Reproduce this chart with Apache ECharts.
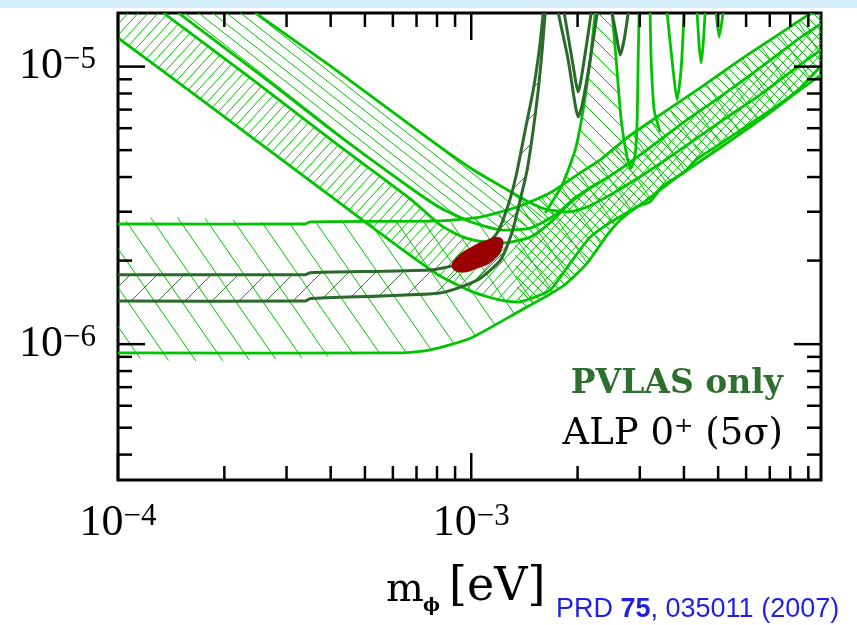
<!DOCTYPE html>
<html>
<head>
<meta charset="utf-8">
<script src="https://cdn.jsdelivr.net/npm/echarts@6/dist/echarts.min.js"></script>
<style>
  html, body { margin: 0; padding: 0; background: #fff; }
  #chart { width: 857px; height: 625px; }
</style>
</head>
<body>
<div id="chart"></div>
<script>
// ---- axis ticks ----
const xMajorTicks = [1e-4, 1e-3];
const xMinorTicks = [2e-4, 3e-4, 4e-4, 5e-4, 6e-4, 7e-4, 8e-4, 9e-4,
                     2e-3, 3e-3, 4e-3, 5e-3, 6e-3, 7e-3, 8e-3, 9e-3];
const yMajorTicks = [1e-6, 1e-5];
const yMinorTicks = [4e-7, 5e-7, 6e-7, 7e-7, 8e-7, 9e-7,
                     2e-6, 3e-6, 4e-6, 5e-6, 6e-6, 7e-6, 8e-6, 9e-6];

// ---- curves, [m_phi (eV), g] ----
// rotation band (flat at low mass, rising at high mass)
const h1Top = [[1.0e-4,2.71e-6],[3.39e-4,2.71e-6],[3.50e-4,2.76e-6],[8.17e-4,2.78e-6],[1.06e-3,2.87e-6],
  [1.35e-3,3.12e-6],[1.673e-3,3.51e-6],[2.034e-3,4.14e-6],[2.317e-3,4.61e-6],[2.781e-3,5.58e-6],
  [3.425e-3,6.70e-6],[4.446e-3,8.38e-6],[5.768e-3,1.057e-5],[7.24e-3,1.28e-5],[8.81e-3,1.51e-5],[9.22e-3,1.56e-5]];
const h1Bottom = [[1.0e-4,9.30e-7],[6.30e-4,9.30e-7],[7.66e-4,9.54e-7],[9.94e-4,1.05e-6],[1.376e-3,1.32e-6],
  [1.619e-3,1.48e-6],[1.845e-3,1.64e-6],[2.129e-3,1.96e-6],[2.425e-3,2.47e-6],[2.64e-3,2.80e-6],
  [2.949e-3,3.12e-6],[3.209e-3,3.26e-6],[3.493e-3,3.72e-6],[3.979e-3,4.14e-6],[4.36e-3,4.65e-6],
  [4.966e-3,5.18e-6],[6.155e-3,6.22e-6],[7.482e-3,7.34e-6],[8.525e-3,8.38e-6],[9.775e-3,1.006e-5]];

// ellipticity band, dense hatch
const e1Lower = [[1.0e-4,1.269e-5],[1.71e-4,7.65e-6],[3.99e-4,3.42e-6],[6.30e-4,2.22e-6],[8.17e-4,1.76e-6],
  [1.013e-3,1.54e-6],[1.21e-3,1.44e-6],[1.376e-3,1.42e-6],[1.673e-3,1.57e-6],[1.906e-3,1.96e-6],
  [2.171e-3,2.43e-6],[2.473e-3,2.74e-6],[3.007e-3,3.18e-6],[3.902e-3,4.07e-6],[5.064e-3,5.10e-6],
  [6.571e-3,6.43e-6],[8.525e-3,8.24e-6],[9.775e-3,9.34e-6]];
const e1Upper = [[1.345e-4,1.56e-5],[2.37e-4,9.11e-6],[4.12e-4,5.31e-6],[6.72e-4,3.34e-6],[8.17e-4,2.69e-6],
  [9.49e-4,2.43e-6],[1.08e-3,2.34e-6],[1.264e-3,2.32e-6],[1.469e-3,2.43e-6],[1.673e-3,2.74e-6],
  [1.906e-3,3.23e-6],[2.171e-3,3.66e-6],[2.473e-3,4.04e-6],[3.007e-3,4.81e-6],[3.902e-3,6.17e-6],
  [5.064e-3,7.78e-6],[6.571e-3,9.89e-6],[8.525e-3,1.269e-5],[9.775e-3,1.425e-5]];

// ellipticity band, sparse hatch
const e2Lower = [[1.483e-4,1.56e-5],[2.53e-4,9.34e-6],[4.12e-4,5.77e-6],[6.72e-4,3.66e-6],[8.17e-4,3.10e-6],
  [9.94e-4,2.76e-6],[1.21e-3,2.58e-6],[1.469e-3,2.62e-6],[1.729e-3,2.92e-6],[1.969e-3,3.37e-6],[2.317e-3,3.84e-6]];
const e2Upper = [[2.45e-4,1.56e-5],[3.99e-4,1.006e-5],[7.66e-4,5.45e-6],[1.013e-3,4.25e-6],[1.264e-3,3.60e-6],
  [1.469e-3,3.23e-6],[1.641e-3,3.05e-6],[1.906e-3,3.00e-6],[2.129e-3,3.12e-6],[2.473e-3,3.45e-6],
  [3.007e-3,4.01e-6],[3.902e-3,5.01e-6],[5.064e-3,6.32e-6],[6.571e-3,7.91e-6],[8.525e-3,1.014e-5],[9.775e-3,1.149e-5]];

// ALP 0+ band (dark)
const h2Upper = [[1.0e-4,1.78e-6],[3.39e-4,1.78e-6],[3.50e-4,1.81e-6],[7.66e-4,1.85e-6],[9.01e-4,1.93e-6],
  [1.04e-3,2.13e-6],[1.185e-3,2.52e-6],[1.273e-3,3.18e-6],[1.341e-3,4.07e-6],[1.422e-3,5.92e-6],
  [1.498e-3,8.24e-6],[1.558e-3,1.149e-5],[1.599e-3,1.56e-5]];
const h2Lower = [[1.0e-4,1.43e-6],[3.39e-4,1.43e-6],[3.50e-4,1.46e-6],[8.17e-4,1.53e-6],[1.04e-3,1.70e-6],
  [1.21e-3,2.01e-6],[1.306e-3,2.54e-6],[1.376e-3,3.31e-6],[1.44e-3,4.25e-6],[1.498e-3,5.92e-6],
  [1.548e-3,8.24e-6],[1.588e-3,1.149e-5],[1.619e-3,1.56e-5]];
const dv1Outer = [[1.763e-3,1.56e-5],[1.881e-3,1.057e-5],[1.969e-3,7.28e-6],[2.008e-3,6.59e-6],
  [2.061e-3,7.28e-6],[2.171e-3,1.057e-5],[2.273e-3,1.56e-5]];
const dv1Inner = [[1.833e-3,1.56e-5],[1.931e-3,1.057e-5],[2.008e-3,8.11e-6],[2.088e-3,1.057e-5],[2.185e-3,1.56e-5]];
const dv2 = [[2.505e-3,1.56e-5],[2.588e-3,1.248e-5],[2.64e-3,1.102e-5],[2.709e-3,1.248e-5],[2.781e-3,1.56e-5]];

// rotation resonances
const sp1 = [[2.243e-3,1.56e-5],[2.171e-3,1.057e-5],[2.074e-3,6.98e-6],[1.969e-3,5.01e-6],[1.809e-3,3.75e-6],[1.619e-3,2.97e-6]];
const sp2 = [[2.505e-3,1.56e-5],[2.572e-3,1.057e-5],[2.657e-3,6.43e-6],[2.763e-3,4.69e-6],[2.836e-3,4.32e-6],
  [2.910e-3,4.81e-6],[2.949e-3,6.43e-6],[2.968e-3,1.057e-5],[2.988e-3,1.56e-5]];
const sp3 = [[3.209e-3,1.56e-5],[3.23e-3,1.057e-5],[3.294e-3,6.98e-6],[3.425e-3,5.82e-6]];
const sp4 = [[3.585e-3,1.56e-5],[3.727e-3,9.73e-6],[3.825e-3,7.59e-6],[3.926e-3,9.73e-6],[4.005e-3,1.56e-5]];
const sp5 = [[4.36e-3,1.56e-5],[4.416e-3,1.197e-5],[4.473e-3,1.031e-5],[4.533e-3,1.197e-5],[4.592e-3,1.56e-5]];
const sp6 = [[4.934e-3,1.56e-5],[5.031e-3,1.28e-5],[5.164e-3,1.56e-5]];

// combined fit (red)
const blob = [[8.84e-4,1.90e-6],[9.13e-4,2.06e-6],[9.94e-4,2.22e-6],[1.11e-3,2.37e-6],[1.21e-3,2.41e-6],
  [1.224e-3,2.24e-6],[1.154e-3,2.01e-6],[1.04e-3,1.88e-6],[9.31e-4,1.82e-6]];

const X_MIN = 1e-4, X_MAX = 9.775e-3, Y_MIN = 3.24e-7, Y_MAX = 1.56e-5;

const LG = '#00c400';
const DG = '#2b6a2b';

// little canvas tiles for hatching
function hatch(w, h, color, dir) {
  const c = document.createElement('canvas');
  c.width = w; c.height = h;
  const ctx = c.getContext('2d');
  ctx.strokeStyle = color;
  ctx.lineWidth = 1;
  for (let k = -1; k <= 1; k++) {
    ctx.beginPath();
    if (dir > 0) { ctx.moveTo(k * w, 0); ctx.lineTo(k * w + w, h); }
    else { ctx.moveTo(k * w, h); ctx.lineTo(k * w + w, 0); }
    ctx.stroke();
  }
  return { image: c, repeat: 'repeat' };
}

function area(ring, fill, z) {
  return {
    type: 'custom', coordinateSystem: 'cartesian2d', clip: true, silent: true, z: z,
    data: ring,
    renderItem(params, api) {
      if (params.dataIndex !== 0) return null;
      return { type: 'polygon', shape: { points: ring.map(p => api.coord(p)), smooth: 0.2 },
        style: { fill: fill, stroke: null } };
    }
  };
}

function curve(pts, color, width, z) {
  return {
    type: 'custom', coordinateSystem: 'cartesian2d', clip: true, silent: true, z: z,
    data: pts,
    renderItem(params, api) {
      if (params.dataIndex !== 0) return null;
      return { type: 'polyline', shape: { points: pts.map(p => api.coord(p)), smooth: 0.2 },
        style: { fill: null, stroke: color, lineWidth: width, lineJoin: 'round' } };
    }
  };
}

function ticks(values, isY, len) {
  return {
    type: 'custom', coordinateSystem: 'cartesian2d', silent: true, z: 20,
    data: values.map(v => isY ? [1e-3, v] : [v, 1e-6]),
    renderItem(params, api) {
      const cs = params.coordSys;
      const p = api.coord([api.value(0), api.value(1)]);
      const st = { stroke: '#000', lineWidth: 2.5 };
      if (isY) {
        return { type: 'group', children: [
          { type: 'line', shape: { x1: cs.x, y1: p[1], x2: cs.x + len, y2: p[1] }, style: st },
          { type: 'line', shape: { x1: cs.x + cs.width, y1: p[1], x2: cs.x + cs.width - len, y2: p[1] }, style: st }
        ] };
      }
      return { type: 'group', children: [
        { type: 'line', shape: { x1: p[0], y1: cs.y + cs.height, x2: p[0], y2: cs.y + cs.height - len }, style: st },
        { type: 'line', shape: { x1: p[0], y1: cs.y, x2: p[0], y2: cs.y + len }, style: st }
      ] };
    }
  };
}

function decadeLabel(v) {
  const e = Math.log10(v), r = Math.round(e);
  if (Math.abs(e - r) > 1e-6) return '';
  return '{b|10}{e|' + (r < 0 ? '\u2212' + (-r) : r) + '}';
}
const labelRich = {
  b: { fontFamily: 'Liberation Serif', fontSize: 44, color: '#000', lineHeight: 44 },
  e: { fontFamily: 'Liberation Serif', fontSize: 31, color: '#000', verticalAlign: 'top', lineHeight: 28 }
};

const chart = echarts.init(document.getElementById('chart'));
chart.setOption({
  animation: false,
  backgroundColor: '#fff',
  grid: { left: 118, right: 36, top: 13, bottom: 145, show: true, borderColor: '#000', borderWidth: 3,
    backgroundColor: 'transparent', outerBoundsMode: 'none' },
  xAxis: {
    type: 'log', logBase: 10, min: X_MIN, max: X_MAX,
    axisLine: { show: false }, axisTick: { show: false }, splitLine: { show: false },
    axisLabel: { formatter: decadeLabel, rich: labelRich, margin: 21, showMinLabel: true, showMaxLabel: false }
  },
  yAxis: {
    type: 'log', logBase: 10, min: Y_MIN, max: Y_MAX,
    axisLine: { show: false }, axisTick: { show: false }, splitLine: { show: false },
    axisLabel: { formatter: decadeLabel, rich: labelRich, margin: 22, showMinLabel: false, showMaxLabel: false }
  },
  graphic: [
    { type: 'rect', left: 0, top: 0, shape: { width: 857, height: 8 }, style: { fill: '#d5eefc' }, silent: true },
    { type: 'text', x: 783, y: 384, style: { text: 'PVLAS only', align: 'right', verticalAlign: 'middle',
      font: 'bold 33px "DejaVu Serif"', fill: '#2e6e2e' } },
    { type: 'text', x: 783, y: 434, style: { text: 'ALP 0\u207A (5\u03C3)', align: 'right', verticalAlign: 'middle',
      font: '37px "DejaVu Serif"', fill: '#000' } },
    { type: 'text', x: 386, y: 591, style: { text: 'm', align: 'left', verticalAlign: 'middle',
      font: '40px "DejaVu Serif"', fill: '#000' } },
    { type: 'text', x: 423, y: 606, style: { text: '\u03D5', align: 'left', verticalAlign: 'middle',
      font: 'bold 18px "DejaVu Serif"', fill: '#000' } },
    { type: 'text', x: 449, y: 588, style: { text: '[eV]', align: 'left', verticalAlign: 'middle',
      font: '46px "DejaVu Serif"', fill: '#000' } },
    { type: 'text', x: 556, y: 623, style: {
      text: '{n|PRD }{b|75}{n|, 035011 (2007)}', align: 'left', verticalAlign: 'bottom',
      rich: { n: { fontFamily: 'Liberation Sans', fontSize: 27, fill: '#1f1fe6' },
              b: { fontFamily: 'Liberation Sans', fontSize: 27, fontWeight: 'bold', fill: '#1f1fe6' } } } }
  ],
  series: [
    // hatched regions
    area(h1Top.concat([[X_MAX, Y_MAX]], h1Bottom.slice().reverse()), hatch(27, 39, LG, 1), 1),
    area(h1Top.slice(5).concat([[X_MAX, Y_MAX]], h1Bottom.slice(4).reverse()), hatch(10, 10, LG, 1), 1),
    area(e1Lower.concat(e1Upper.slice().reverse(), [[X_MIN, Y_MAX]]), hatch(10, 11, LG, -1), 1),
    area(e2Lower.slice(0, 9).concat(e2Upper.slice(0, 7).reverse()), hatch(14, 11, LG, 1), 1),
    area(sp1.slice(0, 5).concat(sp2.slice(0, 4).reverse()), hatch(15, 15, LG, 1), 1),
    area(h2Upper.concat(h2Lower.slice().reverse()), hatch(27, 27, '#3f7a3f', -1), 2),
    // light green outlines
    curve(h1Top, LG, 2.8, 5), curve(h1Bottom, LG, 2.8, 5),
    curve(e1Lower, LG, 2.8, 5), curve(e1Upper, LG, 2.8, 5),
    curve(e2Lower, LG, 2.8, 5), curve(e2Upper, LG, 2.8, 5),
    curve(sp1, LG, 2.8, 5), curve(sp2, LG, 2.8, 5), curve(sp3, LG, 2.8, 5),
    curve(sp4, LG, 2.8, 5), curve(sp5, LG, 2.8, 5), curve(sp6, LG, 2.8, 5),
    // dark green
    curve(h2Upper, DG, 3, 6), curve(h2Lower, DG, 3, 6),
    curve(dv1Outer, DG, 3, 6), curve(dv1Inner, DG, 3, 6), curve(dv2, DG, 3, 6),
    // red region
    {
      type: 'custom', coordinateSystem: 'cartesian2d', clip: true, silent: true, z: 8,
      data: blob,
      renderItem(params, api) {
        if (params.dataIndex !== 0) return null;
        return { type: 'polygon', shape: { points: blob.map(p => api.coord(p)), smooth: 0.5 },
          style: { fill: '#990000', stroke: '#990000', lineWidth: 1 } };
      }
    },
    ticks(xMajorTicks, false, 27), ticks(xMinorTicks, false, 14),
    ticks(yMajorTicks, true, 27), ticks(yMinorTicks, true, 14)
  ]
});
</script>
</body>
</html>
